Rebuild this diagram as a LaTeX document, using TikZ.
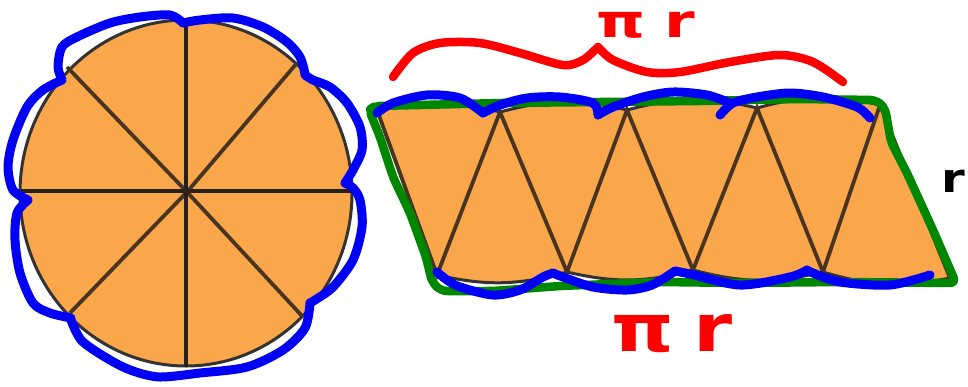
\documentclass[tikz,border=0pt]{standalone}
\usepackage{fontspec}
\newfontfamily\handfont{DejaVu Sans}
\definecolor{pieorange}{RGB}{250,166,74}
\definecolor{slicedark}{RGB}{40,32,26}
\definecolor{edgegreen}{RGB}{0,135,0}
\definecolor{penblue}{RGB}{0,0,245}
\definecolor{penred}{RGB}{255,0,0}
\tikzset{
  pie/.style={fill=pieorange, draw=black!80, line width=3pt},
  cutline/.style={draw=slicedark, line width=3.6pt},
  diagline/.style={draw=slicedark!85!pieorange, line width=3.8pt},
  greenpen/.style={draw=edgegreen, line width=8.5pt, line cap=round, line join=round},
  bluepen/.style={draw=penblue, line width=9pt, line cap=round, line join=round},
  redpen/.style={draw=penred, line width=8.5pt, line cap=round, line join=round},
  handtext/.style={inner sep=0pt, font=\handfont\bfseries}
}
\begin{document}
\begin{tikzpicture}[x=1pt,y=-1pt]
\useasboundingbox (0,0) rectangle (968,386);
% ---------- circle ----------
\coordinate (C) at (187,192);
\fill[pie] (186,193) ellipse [x radius=166, y radius=173];
\coordinate (cT) at (186,22);
\coordinate (cB) at (186,367);
\coordinate (cL) at (21,191);
\coordinate (cR) at (351,191);
\coordinate (cUL) at (67,67);
\coordinate (cUR) at (297,63);
\coordinate (cLL) at (70,313);
\coordinate (cLR) at (303,317);
\draw[diagline] (cUL) -- (C) -- (cLR);
\draw[diagline] (cUR) -- (C) -- (cLL);
\draw[cutline] (cT) -- (cB);
\draw[cutline] (cL) -- (cR);
% blue scallops round the circle
\draw[bluepen] plot[smooth] coordinates {(183,23) (200,20) (233,18) (263,27) (287,42) (300,57) (305,74)};
\draw[bluepen] plot[smooth] coordinates {(305,75) (313,80) (330,87) (347,103) (360,127) (362,150) (353,170) (345,183)};
\draw[bluepen] plot[smooth] coordinates {(345,183) (353,188) (360,200) (362,227) (353,260) (333,287) (315,300) (310,303)};
\draw[bluepen] plot[smooth] coordinates {(310,303) (305,328) (283,350) (247,367) (200,373) (160,377) (133,371) (110,360) (82,341) (71,320)};
\draw[bluepen] plot[smooth] coordinates {(71,318) (50,313) (33,303) (20,273) (15,240) (17,213) (28,200)};
\draw[bluepen] plot[smooth] coordinates {(28,200) (13,190) (8,167) (13,140) (27,107) (43,90) (62,80)};
\draw[bluepen] plot[smooth] coordinates {(62,80) (58,67) (62,47) (77,37) (110,23) (140,17) (170,15) (183,23)};
% ---------- unrolled strip ----------
\coordinate (t0) at (377,110);
\coordinate (t1) at (500,112);
\coordinate (t2) at (627,110);
\coordinate (t3) at (757,108);
\coordinate (t4) at (880,105);
\coordinate (b0) at (437,275);
\coordinate (b1) at (567,272);
\coordinate (b2) at (693,270);
\coordinate (b3) at (823,272);
\coordinate (b4) at (950,278);
\fill[pie] (t0) to[bend left=14] (t1) to[bend left=14] (t2) to[bend left=14] (t3) to[bend left=14] (t4)
  -- (b4) to[bend left=14] (b3) to[bend left=14] (b2) to[bend left=14] (b1) to[bend left=14] (b0) -- cycle;
\draw[diagline] (t0) -- (b0) -- (t1) -- (b1) -- (t2) -- (b2) -- (t3) -- (b3) -- (t4) -- (b4);
% green outline
\draw[greenpen, rounded corners=6pt] (369,110) -- (380,137) -- (393,177) -- (410,213) -- (426,257) -- (432,282) -- (441,291)
  -- (493,291) -- (560,286) -- (660,282) -- (740,283) -- (840,282) -- (956,283)
  -- (933,230) -- (907,173) -- (891,142) -- (885,108) -- (876,100)
  -- (800,99) -- (700,101) -- (600,102) -- (500,103) -- (420,105) -- (375,106) -- cycle;
% blue top scallops
\draw[bluepen] plot[smooth] coordinates {(377,113) (393,103) (427,95) (460,98) (483,113)};
\draw[bluepen] plot[smooth] coordinates {(483,113) (500,105) (527,98) (560,97) (593,103) (598,115)};
\draw[bluepen] plot[smooth] coordinates {(598,115) (613,107) (643,97) (673,92) (707,95) (730,103)};
\draw[bluepen] plot[smooth] coordinates {(720,115) (733,103) (757,97) (790,93) (823,97) (857,107) (870,118)};
% blue bottom scallops
\draw[bluepen] plot[smooth] coordinates {(437,272) (447,280) (460,287) (493,295) (520,290) (543,277) (553,273)};
\draw[bluepen] plot[smooth] coordinates {(553,273) (563,277) (593,287) (627,290) (652,285) (675,271)};
\draw[bluepen] plot[smooth] coordinates {(675,271) (690,274) (740,285) (790,277) (807,270)};
\draw[bluepen] plot[smooth] coordinates {(807,270) (813,273) (840,282) (890,285) (930,275)};
% red brace
\coordinate (tip) at (598,47);
\draw[redpen] plot[smooth] coordinates {(393,77) (413,53) (440,43) (480,43) (520,53) (563,65) (583,60) (tip)};
\draw[redpen] plot[smooth] coordinates {(tip) (613,60) (647,72) (680,72) (730,62) (780,55) (813,62) (843,82)};
% labels
\node[handtext, text=penred, font=\handfont\bfseries\fontsize{46}{46}\selectfont, xscale=1.35, anchor=west] (pitop) at (596,25) {π\kern0.3em r};
\node[handtext, text=penred, font=\handfont\bfseries\fontsize{66}{66}\selectfont, xscale=1.2, anchor=west] (pibot) at (611,334) {π\kern0.25em r};
\node[handtext, text=black, font=\handfont\bfseries\fontsize{40}{40}\selectfont, xscale=1.2, anchor=west] (rside) at (941,181) {r};
\end{tikzpicture}
\end{document}
